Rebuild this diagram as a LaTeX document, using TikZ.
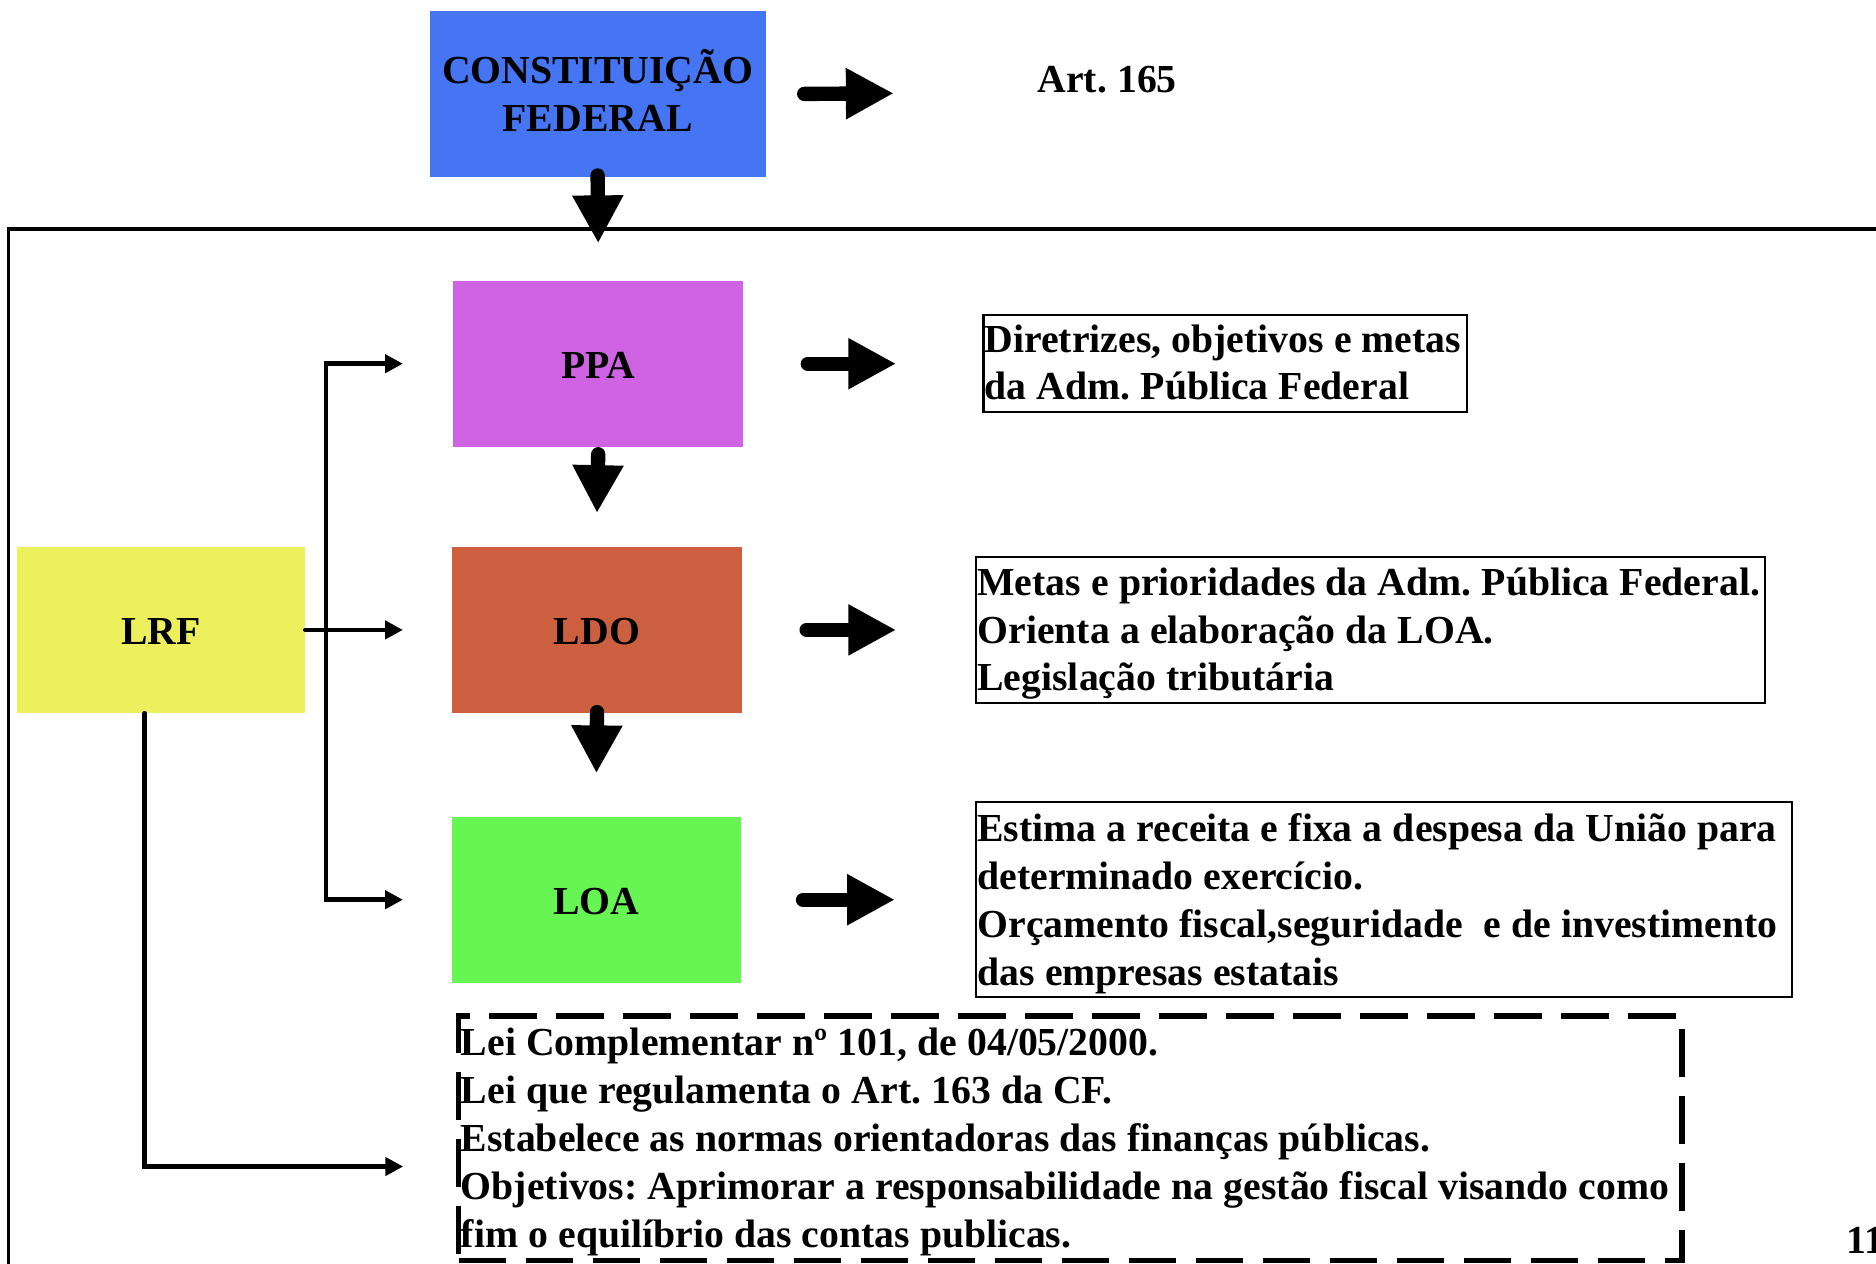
\documentclass[tikz,border=0pt]{standalone}
\usepackage{fontspec}
\setmainfont{Liberation Serif}
\usetikzlibrary{arrows.meta}
\definecolor{cfblue}{RGB}{69,117,242}
\definecolor{ppacol}{RGB}{208,99,228}
\definecolor{ldocol}{RGB}{205,95,65}
\definecolor{loacol}{RGB}{102,245,82}
\definecolor{lrfcol}{RGB}{235,240,92}
\newcommand{\diagfont}{\fontsize{33.2}{40}\selectfont\bfseries\frenchspacing}
\newcommand{\tline}[1]{\mbox{\frenchspacing\spaceskip=8.5pt\relax\xspaceskip=8.5pt\relax #1}}
\begin{document}
\frenchspacing
\begin{tikzpicture}[x=1pt,y=-1pt,
  txt/.style={font=\diagfont, text=black},
  colbox/.style={txt, inner sep=0pt, minimum height=139pt, align=center, text height=24pt, text depth=0pt},
  infobox/.style={txt, draw=black, line width=2pt, inner xsep=1pt, inner ysep=0pt, align=left, text height=0pt},
  bigarrow/.style={line width=12pt, line cap=round, -{Triangle[length=40pt,width=40pt]}},
  thinarrow/.style={line width=4pt, line cap=round, -{Triangle[length=15pt,width=15pt]}},
  frameline/.style={line width=3pt}
]
\useasboundingbox (0,0) rectangle (1568,1056);
\clip (0,0) rectangle (1568,1056);

% outer frame
\draw[frameline] (7,1100) -- (7,191.5) -- (1620,191.5);

% coloured boxes
\node[colbox, fill=cfblue, minimum width=281pt, text height=63pt, text depth=0pt] (cf) at (499.5,78.5) {CONSTITUIÇÃO\\FEDERAL};
\node[colbox, fill=ppacol, minimum width=242pt] (ppa) at (500,304) {PPA};
\node[colbox, fill=ldocol, minimum width=242pt] (ldo) at (499,526.5) {LDO};
\node[colbox, fill=loacol, minimum width=241pt] (loa) at (498.5,752) {LOA};
\node[colbox, fill=lrfcol, minimum width=241pt] (lrf) at (134.5,526.5) {LRF};

% texts
\node[txt, anchor=base west, inner sep=0pt] (art) at (867,77.5) {\tline{Art. 165}};
\node[infobox, minimum width=404pt, minimum height=81pt, text width=402pt, text depth=19.4pt] (dir) at (1024,304)
  {\tline{Diretrizes, objetivos e metas}\\\tline{da Adm. Pública Federal}};
\node[infobox, minimum width=659pt, minimum height=122pt, text width=657pt, text depth=58pt] (metas) at (1145.5,526.5)
  {\tline{Metas e prioridades da Adm. Pública Federal.}\\\tline{Orienta a elaboração da LOA.}\\\tline{Legislação tributária}};
\node[infobox, minimum width=682pt, minimum height=163pt, text width=680pt, text depth=97pt] (estima) at (1157,752)
  {\tline{Estima a receita e fixa a despesa da União para}\\\tline{determinado exercício.}\\\tline{Orçamento fiscal,seguridade\ \ e de investimento}\\\tline{das empresas estatais}};
\node[txt, draw=black, line width=4.5pt, dash pattern=on 40pt off 16pt, inner xsep=2pt, inner ysep=0pt,
  align=left, minimum width=1022.5pt, minimum height=204.5pt, text width=1018.5pt, text height=0pt, text depth=138pt] (lci) at (894.5,951.5)
  {\tline{Lei Complementar nº 101, de 04/05/2000.}\\\tline{Lei que regulamenta o Art. 163 da CF.}\\\tline{Estabelece as normas orientadoras das finanças públicas.}\\\tline{Objetivos: Aprimorar a responsabilidade na gestão fiscal visando como}\\\tline{fim o equilíbrio das contas publicas.}};
\node[txt, anchor=base west, inner sep=0pt] (pg) at (1543,1048) {11};

% big arrows
\coordinate (arttip) at (747,78);
\draw[bigarrow] ([xshift=32pt]cf.east) -- (arttip);
\draw[bigarrow] ([yshift=1.5pt]cf.south) -- ([yshift=31pt]ppa.north);
\draw[bigarrow] ([yshift=-6pt]ppa.south) -- ([yshift=28pt]ldo.north);
\draw[bigarrow] ([yshift=1pt]ldo.south) -- ([yshift=36pt]loa.north);
\draw[bigarrow] ([xshift=54pt]ppa.east) -- ([xshift=-72pt]dir.west);
\draw[bigarrow] ([xshift=54pt]ldo.east) -- ([xshift=-66pt]metas.west);
\draw[bigarrow] ([xshift=52pt]loa.east) -- ([xshift=-67pt]estima.west);

% thin connectors from LRF
\coordinate (bus) at (272.5,526.5);
\coordinate (lcitip) at (337,975);
\draw[thinarrow] (lrf.east) -- ([xshift=-41pt]ldo.west);
\draw[thinarrow] (bus) |- ([xshift=-42pt]ppa.west);
\draw[thinarrow] (bus) |- ([xshift=-41pt]loa.west);
\draw[thinarrow] ([xshift=-13.5pt]lrf.south) |- (lcitip);
\end{tikzpicture}
\end{document}
